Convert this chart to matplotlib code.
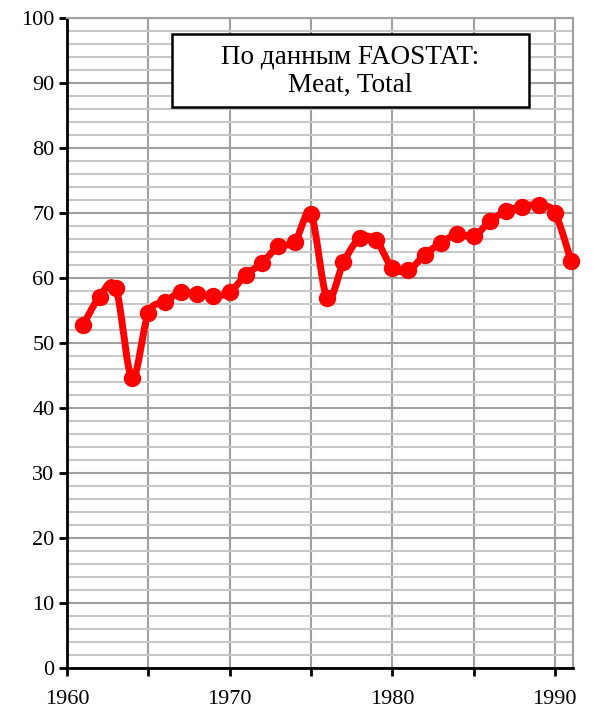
import numpy as np
import matplotlib.pyplot as plt
from matplotlib.patches import Rectangle

# FAOSTAT, Meat, Total
years = [1961, 1962, 1963, 1964, 1965, 1966, 1967, 1968, 1969, 1970,
         1971, 1972, 1973, 1974, 1975, 1976, 1977, 1978, 1979, 1980,
         1981, 1982, 1983, 1984, 1985, 1986, 1987, 1988, 1989, 1990, 1991]
values = [52.8, 57.1, 58.5, 44.6, 54.6, 56.3, 57.8, 57.5, 57.2, 57.8,
          60.5, 62.3, 64.9, 65.5, 69.8, 56.9, 62.4, 66.1, 65.8, 61.6,
          61.2, 63.6, 65.4, 66.8, 66.4, 68.7, 70.3, 71.0, 71.2, 70.0, 62.6]
x_labels = ['1960', '', '1970', '', '1980', '', '1990']
box_lines = ['По данным FAOSTAT:', 'Meat, Total']


def smooth_curve(x, y, n=30):
    # Catmull-Rom style curve through the points (like Excel's smoothed line)
    x = np.asarray(x, float)
    y = np.asarray(y, float)
    px = np.concatenate([[x[0]], x, [x[-1]]])
    py = np.concatenate([[y[0]], y, [y[-1]]])
    xs, ys = [], []
    t = np.linspace(0, 1, n)
    for i in range(1, len(px) - 2):
        p0, p1, p2, p3 = [np.array([px[j], py[j]]) for j in (i - 1, i, i + 1, i + 2)]
        c1 = p1 + (p2 - p0) / 6.0
        c2 = p2 - (p3 - p1) / 6.0
        b = ((1 - t) ** 3)[:, None] * p1 + (3 * (1 - t) ** 2 * t)[:, None] * c1 \
            + (3 * (1 - t) * t ** 2)[:, None] * c2 + (t ** 3)[:, None] * p2
        xs.append(b[:, 0])
        ys.append(b[:, 1])
    return np.concatenate(xs), np.concatenate(ys)


plt.rcParams['font.family'] = ['Liberation Serif', 'DejaVu Serif']

fig = plt.figure(figsize=(5.96, 7.16), dpi=100)
ax = fig.add_axes([67 / 596, 48 / 716, (572.7 - 67) / 596, 650 / 716])

ax.set_xlim(1960, 1991.1)
ax.set_ylim(0, 100)

ax.set_yticks(np.arange(0, 101, 10))
ax.set_yticks(np.arange(0, 101, 2), minor=True)
ax.set_xticks(np.arange(1960, 1991, 5))
ax.set_xticklabels(x_labels)

ax.grid(True, which='major', color='#a0a0a0', linewidth=1.5)
ax.grid(True, which='minor', axis='y', color='#c8c8c8', linewidth=1.5)
ax.set_axisbelow(True)

for side in ['top', 'right']:
    ax.spines[side].set_color('#a0a0a0')
    ax.spines[side].set_linewidth(1.5)
for side in ['left', 'bottom']:
    ax.spines[side].set_color('black')
    ax.spines[side].set_linewidth(2)

ax.tick_params(which='major', direction='out', length=6, width=2, labelsize=16)
ax.tick_params(which='minor', length=0)
ax.tick_params(axis='y', pad=3)
ax.tick_params(axis='x', pad=10)

sx, sy = smooth_curve(years, values)
ax.plot(sx, sy, color='#ff0000', linewidth=5, solid_capstyle='round', zorder=3, clip_on=False)
ax.plot(years, values, 'o', color='#ff0000', markersize=11.5, zorder=4, clip_on=False)

# text box
ax.add_patch(Rectangle((0.2076, 0.863), 0.706, 0.112, transform=ax.transAxes,
                       facecolor='white', edgecolor='black', linewidth=1.8, zorder=5))
for line, yb in zip(box_lines, [0.930, 0.887]):
    ax.text(0.5604, yb, line, transform=ax.transAxes, ha='center', va='baseline',
            fontsize=19.5, zorder=6)

fig.savefig('out.png', dpi=100)
